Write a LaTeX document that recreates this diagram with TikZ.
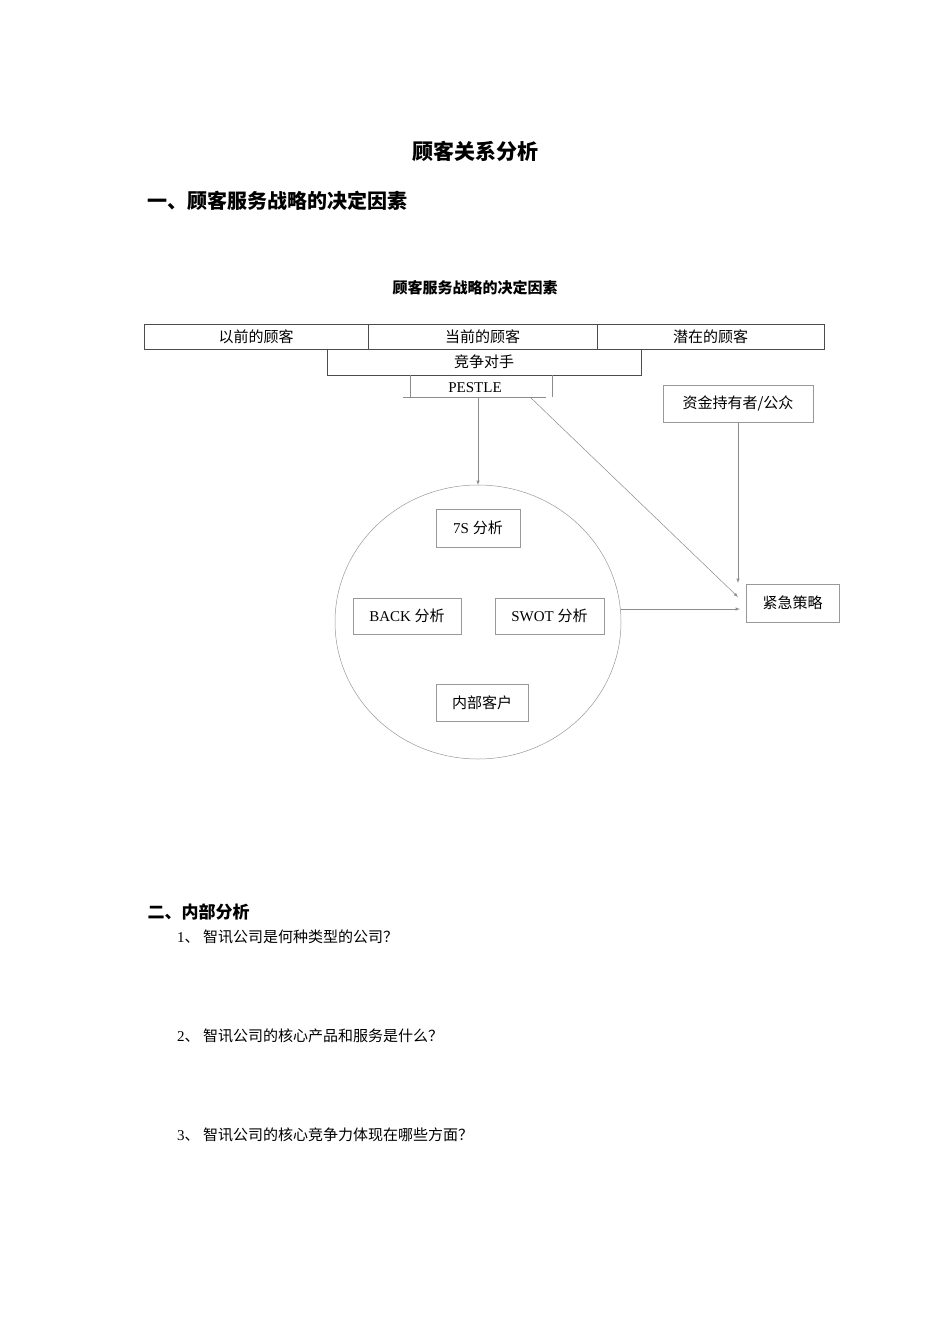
\documentclass[tikz,border=0pt]{standalone}
\usepackage{fontspec}
\setmainfont{Liberation Serif}
\newfontfamily\cjk{Noto Sans CJK SC}
\begin{document}
\begin{tikzpicture}[x=1pt,y=-1pt,
 bx/.style={draw=black!70,line width=0.6pt},
 gb/.style={draw=black!40,line width=0.5pt},
 ln/.style={draw=black!45,line width=0.5pt},
 arr/.style={ln,-latex},
 t/.style={font=\fontsize{15}{17}\selectfont,inner sep=0pt}]
\useasboundingbox[fill=white] (0,0) rectangle (950,1344);
\node[font=\cjk\bfseries\fontsize{21}{24}\selectfont] (title) at (475,151) {顾客关系分析};
\node[anchor=west,font=\cjk\bfseries\fontsize{20}{24}\selectfont] (h1) at (144,201) {一、顾客服务战略的决定因素};
\node[font=\cjk\bfseries\fontsize{15}{18}\selectfont] (cap) at (475,288) {顾客服务战略的决定因素};
\draw[bx] (144,324) rectangle (368,349) node[t,midway] (a) {\cjk 以前的顾客};
\draw[bx] (368,324) rectangle (597,349) node[t,midway] (b) {\cjk 当前的顾客};
\draw[bx] (597,324) rectangle (824,349) node[t,midway] (c) {\cjk 潜在的顾客};
\draw[bx] (327,349) rectangle (641,375) node[t,midway] (d) {\cjk 竞争对手};
\node[t] (pe) at (475,388) {PESTLE};
\draw[ln] (410,375) -- (410,397) (552,375) -- (552,397) (403,397) -- (546,397);
\coordinate (p1) at (478,397);
\coordinate (p2) at (530,397);
\draw[gb] (478,622) ellipse [x radius=143, y radius=137];
\draw[gb] (663,385) rectangle (813,422) node[t,midway] (fund) {\cjk 资金持有者/公众};
\draw[gb] (436,509) rectangle (520,547) node[t,midway] (s7) {7S \cjk 分析};
\draw[gb] (353,598) rectangle (461,634) node[t,midway] (back) {BACK \cjk 分析};
\draw[gb] (495,598) rectangle (604,634) node[t,midway] (swot) {SWOT \cjk 分析};
\draw[gb] (436,684) rectangle (528,721) node[t,midway] (in) {\cjk 内部客户};
\draw[gb] (746,584) rectangle (839,622) node[t,midway] (urg) {\cjk 紧急策略};
\coordinate (ct) at (478,485);
\coordinate (f1) at (738,422);
\coordinate (f2) at (738,583);
\coordinate (d2) at (738,597);
\coordinate (s1) at (621,609);
\coordinate (s2) at (740,609);
\draw[arr] (p1) -- (ct);
\draw[arr] (p2) -- (d2);
\draw[arr] (f1) -- (f2);
\draw[arr] (s1) -- (s2);
\node[anchor=west,font=\cjk\bfseries\fontsize{17}{20}\selectfont] (h2) at (144,912) {二、内部分析};
\node[anchor=west,t] (q1) at (177,937) {1\cjk 、 智讯公司是何种类型的公司？};
\node[anchor=west,t] (q2) at (177,1036) {2\cjk 、 智讯公司的核心产品和服务是什么？};
\node[anchor=west,t] (q3) at (177,1135) {3\cjk 、 智讯公司的核心竞争力体现在哪些方面？};
\end{tikzpicture}
\end{document}
